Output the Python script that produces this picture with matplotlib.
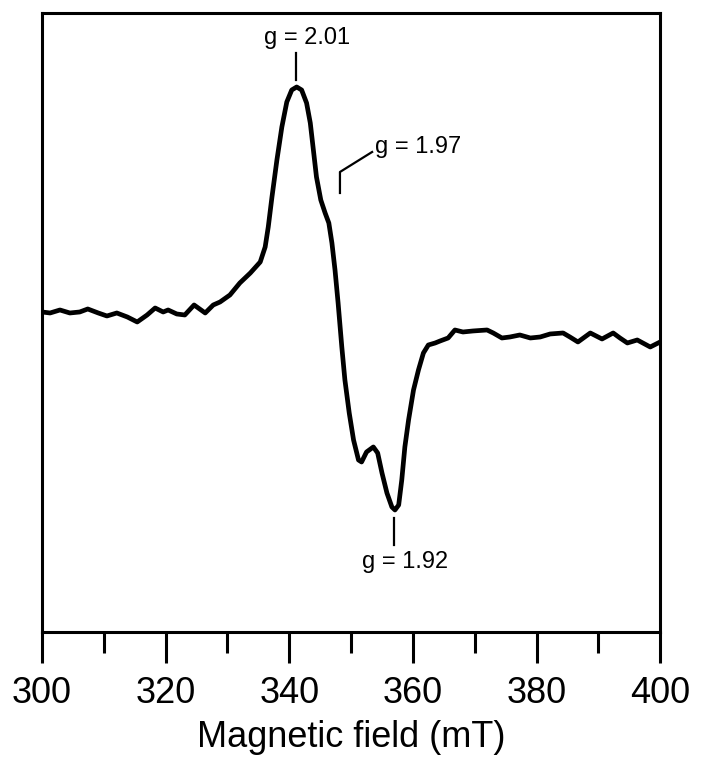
import matplotlib.pyplot as plt
from matplotlib.ticker import MultipleLocator

plt.rcParams["font.family"] = ["Liberation Sans", "DejaVu Sans"]

# EPR spectrum (field in mT, intensity in arb. units)
field = [
    300.0, 301.3, 302.9, 304.5, 306.1, 307.4, 309.1, 310.5, 312.1, 313.8,
    315.4, 317.0, 318.3, 319.6, 320.4, 321.8, 323.1, 324.6, 326.4, 327.7,
    328.8, 330.4, 332.0, 333.7, 335.3, 336.1, 336.6, 337.2, 338.0, 338.8,
    339.6, 340.4, 341.2, 342.0, 342.8, 343.4, 343.9, 344.4, 345.1, 345.8,
    346.4, 346.9, 347.4, 347.9, 348.5, 349.0, 349.7, 350.4, 351.2, 351.7,
    352.5, 353.6, 354.3, 355.0, 355.8, 356.6, 357.1, 357.7, 358.2, 358.7,
    359.3, 360.1, 360.9, 361.7, 362.5, 363.6, 364.4, 365.7, 366.8, 368.1,
    369.7, 372.0, 373.0, 374.4, 375.7, 377.3, 379.0, 380.6, 382.2, 384.3,
    385.4, 386.7, 388.7, 390.6, 392.4, 393.5, 394.7, 396.3, 397.2, 398.4,
    400.0,
]
intensity = [
    8, 7, 10, 7, 8, 11, 7, 4, 7, 3,
    -2, 5, 12, 8, 10, 6, 5, 15, 7, 15,
    18, 25, 37, 47, 58, 73, 93, 123, 160, 193,
    218, 230, 233, 230, 217, 197, 170, 143, 120, 107,
    97, 77, 50, 17, -27, -60, -93, -120, -140, -142,
    -132, -127, -133, -153, -173, -187, -190, -185, -160, -127,
    -100, -70, -50, -33, -25, -23, -21, -18, -10, -12,
    -11, -10, -13, -18, -17, -15, -18, -17, -14, -13,
    -17, -22, -13, -19, -13, -18, -23, -20, -23, -27,
    -22,
]

fig = plt.figure(figsize=(7.04, 7.68), dpi=100)
ax = fig.add_axes([0.0597, 0.1771, 0.878, 0.806])

ax.plot(field, intensity, color="black", linewidth=3.4,
        solid_joinstyle="round", solid_capstyle="round")

ax.set_xlim(300, 400)
ax.set_ylim(-312, 307)

# g-value markers
ax.plot([341.1, 341.1], [240, 267], color="black", linewidth=1.6)
ax.text(342.8, 282, "g = 2.01", ha="center", va="center", fontsize=17)

ax.plot([348.2, 348.2, 353.4], [127, 148, 168], color="black", linewidth=1.6)
ax.text(353.9, 173, "g = 1.97", ha="left", va="center", fontsize=17)

ax.plot([357.0, 357.0], [-198, -225], color="black", linewidth=1.6)
ax.text(358.7, -242, "g = 1.92", ha="center", va="center", fontsize=17)

ax.xaxis.set_major_locator(MultipleLocator(20))
ax.xaxis.set_minor_locator(MultipleLocator(10))
ax.tick_params(axis="x", which="major", direction="out", length=22, width=2.2,
               labelsize=26, pad=10)
ax.tick_params(axis="x", which="minor", direction="out", length=15, width=2.2)
ax.tick_params(axis="y", left=False, labelleft=False)
ax.set_xlabel("Magnetic field (mT)", fontsize=26, labelpad=6)

for spine in ax.spines.values():
    spine.set_linewidth(2.2)

fig.savefig("out.png", dpi=100)
